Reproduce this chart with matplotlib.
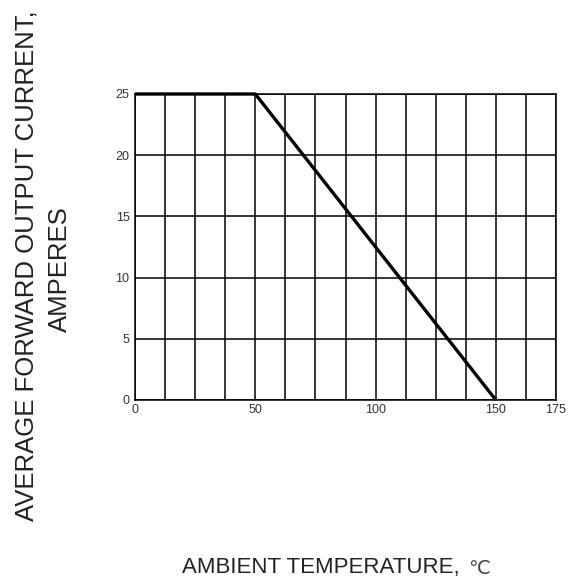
import numpy as np
import matplotlib
matplotlib.use("Agg")
import matplotlib.pyplot as plt

# === Data ===
temp = [0, 50, 150]          # ambient temperature, C
current = [25, 25, 0]        # average forward output current, A

x_ticks = [0, 50, 100, 150, 175]
y_ticks = [0, 5, 10, 15, 20, 25]
x_grid = np.arange(0, 175.1, 12.5)

plt.rcParams['font.family'] = ['Liberation Sans', 'DejaVu Sans']

fig = plt.figure(figsize=(5.79, 5.84), dpi=100)
ax = fig.add_axes([135 / 579, 1 - 400 / 584, (556 - 135) / 579, (400 - 94) / 584])

# grid
for gx in x_grid:
    ax.axvline(gx, color="black", lw=1.1, zorder=1)
for gy in y_ticks:
    ax.axhline(gy, color="black", lw=1.1, zorder=1)

ax.plot(temp, current, color="black", lw=2.4, zorder=3, clip_on=False,
        solid_capstyle="butt")

ax.set_xlim(0, 175)
ax.set_ylim(0, 25)
ax.set_xticks(x_ticks)
ax.set_yticks(y_ticks)
ax.tick_params(length=0, labelsize=9, labelcolor="#333333")
ax.tick_params(axis="x", pad=3)
ax.tick_params(axis="y", pad=4)
for s in ax.spines.values():
    s.set_linewidth(1.1)

fig.text(27 / 579, 1 - 266 / 584, "AVERAGE FORWARD OUTPUT CURRENT,",
         rotation=90, ha="center", va="center", fontsize=18.5, color="#222222")
fig.text(60 / 579, 1 - 269 / 584, "AMPERES",
         rotation=90, ha="center", va="center", fontsize=18.5, color="#222222")

fig.text(182 / 579, 1 - 567 / 584, "AMBIENT TEMPERATURE,",
         ha="left", va="center", fontsize=16, color="#222222")
fig.text(468 / 579, 1 - 568 / 584, "\u2103",
         ha="left", va="center", fontsize=14, color="#444444",
         family=["DejaVu Sans"])

fig.savefig("out.png", dpi=100)
